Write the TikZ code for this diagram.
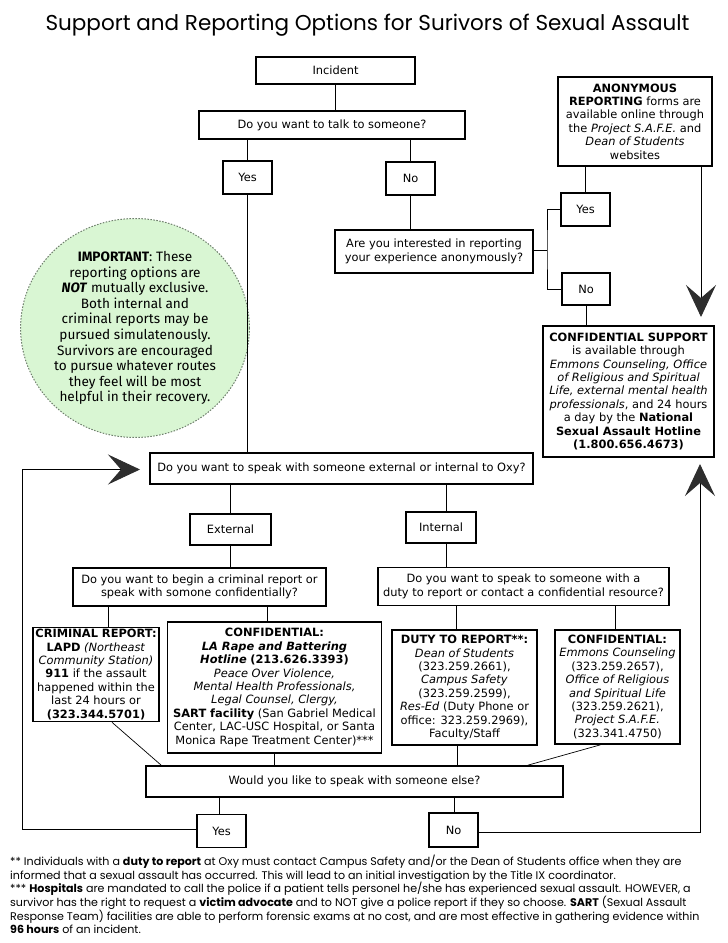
\documentclass[tikz,border=0pt]{standalone}
\usepackage{fontspec}
\setmainfont{DejaVu Sans}
\newfontfamily\titlefont{Poppins}
\newfontfamily\circfont{Fira Sans}
\usetikzlibrary{arrows.meta,calc,shapes.geometric}
\definecolor{arrowgray}{HTML}{2E2E2E}
\definecolor{circfill}{HTML}{D9F6D3}
\definecolor{circline}{HTML}{6F7F6D}
\begin{document}
\begin{tikzpicture}[x=1pt,y=-1pt,
  box/.style={draw=black,line width=1.6pt,inner sep=0pt,align=center,
    font=\fontsize{11.4}{13.4}\selectfont},
  conn/.style={draw=black,line width=0.9pt},
  bigarrow/.style={conn,-{Stealth[length=32pt,width=30pt,inset=13pt,color=arrowgray]}},
  foot/.style={align=left,inner sep=0pt,font=\titlefont\fontsize{11.1}{13.6}\selectfont}
]
\useasboundingbox (0,0) rectangle (728,943);

\node[font=\titlefont\fontsize{21.5}{24}\selectfont] (title) at (367.5,25)
  {Support and Reporting Options for Surivors of Sexual Assault};

% top part
\node[box,minimum width=159,minimum height=27] (incident) at (335.5,70.5) {Incident};
\node[box,minimum width=266,minimum height=28] (talk) at (332,125) {Do you want to talk to someone?};
\node[box,minimum width=49,minimum height=33] (yes1) at (247.5,177.5) {Yes};
\node[box,minimum width=49,minimum height=33] (no1) at (410.5,178.5) {No};
\node[box,minimum width=198,minimum height=43] (anonq) at (434,251.5)
  {Are you interested in reporting\\your experience anonymously?};
\node[box,minimum width=154,minimum height=89] (anonbox) at (635,121.5)
  {\textbf{ANONYMOUS}\\\textbf{REPORTING} forms are\\available online through\\the \textit{Project S.A.F.E.} and\\\textit{Dean of Students}\\websites};
\node[box,minimum width=49,minimum height=33] (yes2) at (585.5,209.5) {Yes};
\node[box,minimum width=48,minimum height=32] (no2) at (586,289) {No};
\node[box,minimum width=171,minimum height=131] (confsup) at (628.5,391.5)
  {\textbf{CONFIDENTIAL SUPPORT}\\is available through\\\textit{Emmons Counseling, Office}\\\textit{of Religious and Spiritual}\\\textit{Life, external mental health}\\\textit{professionals}, and 24 hours\\a day by the \textbf{National}\\\textbf{Sexual Assault Hotline}\\\textbf{(1.800.656.4673)}};

% important circle
\node[ellipse,draw=circline,dash pattern=on 1.5pt off 1.5pt,line width=1pt,fill=circfill,
  minimum width=218,minimum height=219,inner sep=0pt,align=center,
  font=\circfont\fontsize{13.6}{15.6}\selectfont,text=black] (important) at (135,328)
  {\textbf{IMPORTANT}: These\\reporting options are\\\textbf{\textit{NOT}} mutually exclusive.\\Both internal and\\criminal reports may be\\pursued simulatenously.\\Survivors are encouraged\\to pursue whatever routes\\they feel will be most\\helpful in their recovery.};

% middle
\node[box,minimum width=383,minimum height=31] (extint) at (341.5,468.5)
  {Do you want to speak with someone external or internal to Oxy?};
\node[box,minimum width=81,minimum height=31] (external) at (230.5,529.5) {External};
\node[box,minimum width=70,minimum height=31] (internal) at (441,527.5) {Internal};
\node[box,minimum width=253,minimum height=38] (critq) at (199.5,587)
  {Do you want to begin a criminal report or\\speak with somone confidentially?};
\node[box,minimum width=291,minimum height=38] (intq) at (523.5,586.5)
  {Do you want to speak to someone with a\\duty to report or contact a confidential resource?};

% bottom boxes
\node[box,minimum width=126,minimum height=94] (crim) at (96,674.5)
  {\textbf{CRIMINAL REPORT:}\\\textbf{LAPD} \textit{(Northeast}\\\textit{Community Station)}\\\textbf{911} if the assault\\happened within the\\last 24 hours or\\\textbf{(323.344.5701)}};
\node[box,minimum width=214,minimum height=131] (confext) at (274.5,687.5)
  {\textbf{CONFIDENTIAL:}\\\textbf{\itshape LA Rape and Battering}\\\textbf{\itshape Hotline} \textbf{(213.626.3393)}\\\textit{Peace Over Violence,}\\\textit{Mental Health Professionals,}\\\textit{Legal Counsel, Clergy,}\\\textbf{SART facility} (San Gabriel Medical\\Center, LAC-USC Hospital, or Santa\\Monica Rape Treatment Center)***};
\node[box,minimum width=145,minimum height=115] (duty) at (464.5,687.5)
  {\textbf{DUTY TO REPORT**:}\\\textit{Dean of Students}\\(323.259.2661),\\\textit{Campus Safety}\\(323.259.2599),\\\textit{Res-Ed} (Duty Phone or\\office: 323.259.2969),\\Faculty/Staff};
\node[box,minimum width=125,minimum height=114] (confint) at (617.5,687)
  {\textbf{CONFIDENTIAL:}\\\textit{Emmons Counseling}\\(323.259.2657),\\\textit{Office of Religious}\\\textit{and Spiritual Life}\\(323.259.2621),\\\textit{Project S.A.F.E.}\\(323.341.4750)};

\node[box,minimum width=417,minimum height=31] (would) at (354.5,781.5)
  {Would you like to speak with someone else?};
\node[box,minimum width=49,minimum height=33] (yes3) at (221.5,831) {Yes};
\node[box,minimum width=49,minimum height=34] (no3) at (453.5,830) {No};

% coordinates for free ends
\coordinate (brk) at (547,250);
\coordinate (downtip) at (701,317);
\coordinate (uptip) at (700,464);
\coordinate (lcorner) at (22,469.5);
\coordinate (lefttip) at (140,469.5);

% connectors
\draw[conn] (incident.south) -- (incident.south |- talk.north);
\draw[conn] (yes1.north |- talk.south) -- (yes1.north);
\draw[conn] (no1.north |- talk.south) -- (no1.north);
\draw[conn] (no1.south) -- (no1.south |- anonq.north);
\draw[conn] (yes1.south) -- (yes1.south |- extint.north);
\draw[conn] (anonq.east |- brk) -- (brk);
\draw[conn] (yes2.west) -| (brk) |- (no2.west);
\draw[conn] (yes2.north |- anonbox.south) -- (yes2.north);
\draw[conn] (no2.south) -- (no2.south |- confsup.north);
\draw[bigarrow] (anonbox.south -| downtip) -- (downtip);

\draw[conn] (external.north |- extint.south) -- (external.north);
\draw[conn] ([xshift=5]internal.north |- extint.south) -- ([xshift=5]internal.north);
\draw[conn] (external.south) -- (external.south |- critq.north);
\draw[conn] ([xshift=5]internal.south) -- ([xshift=5]internal.south |- intq.north);

\draw[conn] ([xshift=12]crim.north |- critq.south) -- ([xshift=12]crim.north);
\draw[conn] ([xshift=-7]confext.north |- critq.south) -- ([xshift=-7]confext.north);
\draw[conn] ([xshift=-8]duty.north |- intq.south) -- ([xshift=-8]duty.north);
\draw[conn] ([xshift=-2]confint.north |- intq.south) -- ([xshift=-2]confint.north);

\draw[conn,line width=0.7pt] ([xshift=16]crim.south) -- ([xshift=16]would.north west);
\draw[conn] (confext.south) -- (confext.south |- would.north);
\draw[conn] ([xshift=-7]duty.south) -- ([xshift=-7]duty.south |- would.north);
\draw[conn,line width=0.7pt] ([xshift=-17]confint.south) -- ([xshift=-36]would.north east);

\draw[conn] ([xshift=-2]yes3.north |- would.south) -- ([xshift=-2]yes3.north);
\draw[conn] ([xshift=1]no3.north |- would.south) -- ([xshift=1]no3.north);

\draw[bigarrow] ([yshift=2]yes3.west) -| (lcorner) -- (lefttip);
\draw[bigarrow] ([yshift=-2]no3.east) -| (uptip);

% footnotes
\node[foot,anchor=north west] (notes) at (10,855)
  {** Individuals with a \textbf{duty to report} at Oxy must contact Campus Safety and/or the Dean of Students office when they are\\
   informed that a sexual assault has occurred. This will lead to an initial investigation by the Title IX coordinator.\\
   *** \textbf{Hospitals} are mandated to call the police if a patient tells personel he/she has experienced sexual assault. HOWEVER, a\\
   survivor has the right to request a \textbf{victim advocate} and to NOT give a police report if they so choose. \textbf{SART} (Sexual Assault\\
   Response Team) facilities are able to perform forensic exams at no cost, and are most effective in gathering evidence within\\
   \textbf{96 hours} of an incident.};
\end{tikzpicture}
\end{document}
